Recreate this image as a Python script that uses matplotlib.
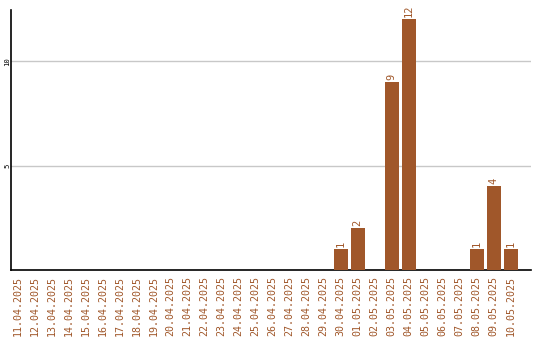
import matplotlib
matplotlib.use("Agg")
import matplotlib.pyplot as plt
import pandas as pd

dates = pd.date_range("2025-04-11", "2025-05-10").strftime("%d.%m.%Y").tolist()
counts = {"30.04.2025": 1, "01.05.2025": 2, "03.05.2025": 9, "04.05.2025": 12,
          "08.05.2025": 1, "09.05.2025": 4, "10.05.2025": 1}
values = [counts.get(d, 0) for d in dates]

color = "#a0572a"
plt.rcParams["font.family"] = "DejaVu Sans Mono"

fig = plt.figure(figsize=(5.4, 3.4), dpi=100)
ax = fig.add_axes([11 / 540, 70 / 340, 520 / 540, 260 / 340])

x = list(range(len(dates)))
ax.bar(x, values, width=0.82, color=color, zorder=3)
for xi, v in zip(x, values):
    if v > 0:
        ax.text(xi, v + 0.12, str(v), rotation=90, ha="center", va="bottom",
                fontsize=7.5, color=color)

ax.set_xlim(-0.4, 30.2)
ax.set_ylim(0, 12.45)
ax.set_xticks(x)
ax.set_xticklabels(dates, rotation=90, fontsize=7.2, color=color)
ax.set_yticks([5, 10])
ax.set_yticklabels(["5", "10"], rotation=90, fontsize=5.2, va="center")
ax.tick_params(axis="x", length=0, pad=4)
ax.tick_params(axis="y", length=0, pad=0.5)
ax.yaxis.grid(True, color="#c8c8c8", linewidth=1, zorder=0)
for s in ["top", "right"]:
    ax.spines[s].set_visible(False)
ax.spines["left"].set_linewidth(1.2)
ax.spines["bottom"].set_linewidth(1.2)

fig.savefig("out.png", dpi=100)
